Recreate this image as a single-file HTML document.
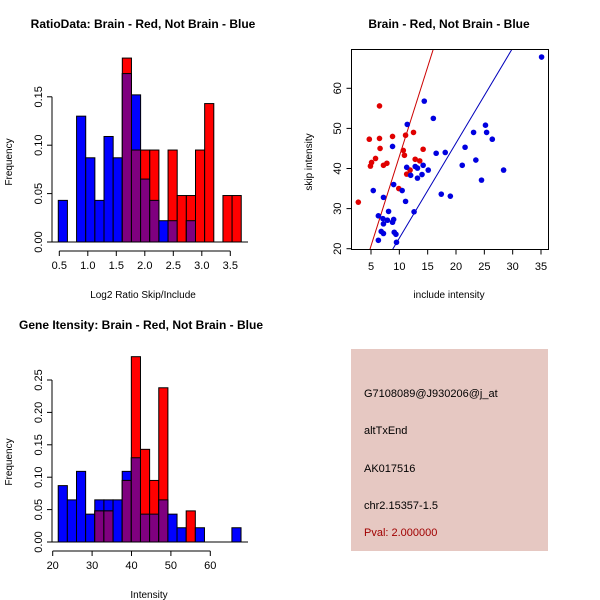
<!DOCTYPE html>
<html><head><meta charset="utf-8">
<style>
html,body{margin:0;padding:0;background:#fff;}
svg{display:block;font-family:"Liberation Sans",sans-serif;}
</style></head>
<body>
<svg id="c" width="600" height="600" viewBox="0 0 600 600">
<rect x="0" y="0" width="600" height="600" fill="#fff"/>
<text x="143" y="28" font-size="12" font-weight="bold" text-anchor="middle">RatioData: Brain - Red, Not Brain - Blue</text>
<text x="449" y="28" font-size="12" font-weight="bold" text-anchor="middle">Brain - Red, Not Brain - Blue</text>
<text x="141" y="329" font-size="12" font-weight="bold" text-anchor="middle">Gene Itensity: Brain - Red, Not Brain - Blue</text>
<text x="143" y="298" font-size="10" text-anchor="middle">Log2 Ratio Skip/Include</text>
<text x="12" y="162" font-size="10" text-anchor="middle" transform="rotate(-90 12 162)">Frequency</text>
<text x="449" y="298" font-size="10" text-anchor="middle">include intensity</text>
<text x="312" y="162" font-size="10" text-anchor="middle" transform="rotate(-90 312 162)">skip intensity</text>
<text x="149" y="598" font-size="10" text-anchor="middle">Intensity</text>
<text x="12" y="462" font-size="10" text-anchor="middle" transform="rotate(-90 12 462)">Frequency</text>
<g>
<rect x="351" y="349" width="197" height="202" fill="#e6c8c2"/>
<text x="364" y="397" font-size="11">G7108089@J930206@j_at</text>
<text x="364" y="434" font-size="11">altTxEnd</text>
<text x="364" y="472" font-size="11">AK017516</text>
<text x="364" y="509" font-size="11">chr2.15357-1.5</text>
<text x="364" y="536" font-size="11" fill="#a00000">Pval: 2.000000</text>
</g>
<g id="g1"></g><g id="g2"></g><g id="g3"></g>
</svg>
<script>
// Ratio histogram data
const ratioBlue = [0.043,0,0.13,0.087,0.043,0.109,0.087,0.174,0.152,0.065,0.043,0.022,0.022,0,0.022,0,0,0,0,0];
const ratioRed  = [0,0,0,0,0,0,0,0.19,0.095,0.095,0.095,0,0.095,0.048,0.048,0.095,0.143,0,0.048,0.048];
const ratioXTicks = [0.5,1.0,1.5,2.0,2.5,3.0,3.5];
const ratioXLabels = ["0.5","1.0","1.5","2.0","2.5","3.0","3.5"];
const ratioYTicks = [0,0.05,0.10,0.15];
const ratioYLabels = ["0.00","0.05","0.10","0.15"];
// Intensity histogram data
const intBlue = [0.087,0.065,0.109,0.043,0.065,0.065,0.065,0.109,0.13,0.043,0.043,0.065,0.043,0.022,0,0.022,0,0,0,0.022];
const intRed  = [0,0,0,0,0.048,0.048,0,0.095,0.286,0.143,0.095,0.238,0,0,0.048,0,0,0,0,0];
const intXTicks = [20,30,40,50,60];
const intYTicks = [0,0.05,0.10,0.15,0.20,0.25];
const intYLabels = ["0.00","0.05","0.10","0.15","0.20","0.25"];
// Scatter data
const redX = [2.76,4.7,6.5,6.5,6.6,5.8,5.1,4.9,7.2,7.8,8.8,9.9,10.7,10.9,11.1,11.3,11.9,12.5,12.8,13.6,14.2];
const redY = [31.6,47.3,55.6,47.5,45,42.5,41.5,40.6,40.8,41.3,48,35,44.5,43.3,48.3,38.6,39.6,49,42.3,41.9,44.8];
const blueX = [5.4,8.8,11.4,14.4,16,16.5,18.1,7.2,9,10.5,11.1,11.3,12,12.8,13.2,13.2,14,14.2,15.1,12.6,6.3,7.1,8.1,7.9,9,8.8,7.2,6.8,7.2,9.1,9.4,9.5,6.3,17.4,19,21.1,21.6,23.1,23.5,24.5,25.2,25.4,26.4,28.4,35.1];
const blueY = [34.5,45.5,51,56.8,52.5,43.8,44,32.8,36,34.5,31.8,40.3,38.3,40.5,40.1,37.6,38.5,40.8,39.6,29.2,28.2,27.5,29.3,27.1,27.3,26.6,26.2,24.3,23.8,24.1,23.6,21.6,22.1,33.6,33.1,40.8,45.3,49,42.1,37.1,50.8,49,47.3,39.6,67.8];
const redLine = [4.8,19.8,16,69.8];
const blueLine = [8.8,19.8,29.9,69.8];
const scXTicks = [5,10,15,20,25,30,35];
const scYTicks = [20,30,40,50,60];

const NS="http://www.w3.org/2000/svg";
function mk(p,t,a){const e=document.createElementNS(NS,t);for(const k in a)e.setAttribute(k,a[k]);p.appendChild(e);return e;}

function hist(g,blue,red,x0,bw,sx,sy,nameP){
  for(let i=0;i<blue.length;i++){
    const xa=sx(x0+i*bw), xb=sx(x0+(i+1)*bw);
    const b=blue[i], r=red[i];
    if(b>0){const e=mk(g,'rect',{x:xa,y:sy(b),width:xb-xa,height:sy(0)-sy(b),fill:'#0000ff',stroke:'#000','stroke-width':1});
      
      }
    if(r>0){const e=mk(g,'rect',{x:xa,y:sy(r),width:xb-xa,height:sy(0)-sy(r),fill:'#ff0000',stroke:'#000','stroke-width':1});
      
      }
    const m=Math.min(b,r);
    if(m>0){const e=mk(g,'rect',{x:xa,y:sy(m),width:xb-xa,height:sy(0)-sy(m),fill:'#7f007f',stroke:'#000','stroke-width':1});
      
      }
  }
}
function axes(g,xt,xl,yt,yl,sx,sy,ax,ay,xa0,xa1,ya0,ya1,nameP){
  mk(g,'line',{x1:sx(xa0),x2:sx(xa1),y1:ay,y2:ay,stroke:'#000'});
  xt.forEach((v,i)=>{mk(g,'line',{x1:sx(v),x2:sx(v),y1:ay,y2:ay+5,stroke:'#000'});
    const t=mk(g,'text',{x:sx(v),y:ay+18,'font-size':11,'text-anchor':'middle'});t.textContent=xl[i];
    
    });
  mk(g,'line',{x1:ax,x2:ax,y1:sy(ya0),y2:sy(ya1),stroke:'#000'});
  yt.forEach((v,i)=>{mk(g,'line',{x1:ax,x2:ax-5,y1:sy(v),y2:sy(v),stroke:'#000'});
    const tx=ax-10,ty=sy(v);
    const t=mk(g,'text',{x:tx,y:ty,'font-size':11,'text-anchor':'middle',transform:`rotate(-90 ${tx} ${ty})`});t.textContent=yl[i];
    
    });
}
// Plot 1
{const g=document.getElementById('g1');
 
 const sx=v=>59.3+(v-0.5)*57, sy=v=>242-v*968;
 hist(g,ratioBlue,ratioRed,0.482,0.1605,sx,sy,'ratio');
 mk(g,'line',{x1:52,x2:248,y1:242,y2:242,stroke:'#000'});
 axes(g,ratioXTicks,ratioXLabels,ratioYTicks,ratioYLabels,sx,sy,52,251,0.5,3.5,0,0.15,'ratio');}
// Plot 3
{const g=document.getElementById('g3');
 
 const sx=v=>52.7+(v-20)*3.94, sy=v=>542-v*648;
 hist(g,intBlue,intRed,21.4,2.32,sx,sy,'intensity');
 mk(g,'line',{x1:52,x2:248,y1:542,y2:542,stroke:'#000'});
 axes(g,intXTicks,intXTicks.map(String),intYTicks,intYLabels,sx,sy,52,551,20,60,0,0.25,'intensity');}
// Plot 2
{const g=document.getElementById('g2');
 
 const sx=v=>371+(v-5)*5.667, sy=v=>248.7-(v-20)*4.01;
 mk(g,'clipPath',{id:'cp'}).appendChild(document.createElementNS(NS,'rect'));
 const cr=g.querySelector('#cp rect');cr.setAttribute('x',352);cr.setAttribute('y',49);cr.setAttribute('width',196);cr.setAttribute('height',200);
 const l1=mk(g,'line',{x1:sx(redLine[0]),y1:sy(redLine[1]),x2:sx(redLine[2]),y2:sy(redLine[3]),stroke:'#cc0000','clip-path':'url(#cp)'});
 
 const l2=mk(g,'line',{x1:sx(blueLine[0]),y1:sy(blueLine[1]),x2:sx(blueLine[2]),y2:sy(blueLine[3]),stroke:'#0000bb','clip-path':'url(#cp)'});
 
 redX.forEach((x,i)=>{const c=mk(g,'circle',{cx:sx(x),cy:sy(redY[i]),r:2.8,fill:'#e00000'});
   
   });
 blueX.forEach((x,i)=>{const c=mk(g,'circle',{cx:sx(x),cy:sy(blueY[i]),r:2.8,fill:'#0000e0'});
   
   });
 mk(g,'rect',{x:351.5,y:49.5,width:197,height:200,fill:'none',stroke:'#000'});
 scXTicks.forEach(v=>{mk(g,'line',{x1:sx(v),x2:sx(v),y1:249.5,y2:254.5,stroke:'#000'});
   const t=mk(g,'text',{x:sx(v),y:270,'font-size':11,'text-anchor':'middle'});t.textContent=v;
   
   });
 scYTicks.forEach(v=>{mk(g,'line',{x1:351.5,x2:346.5,y1:sy(v),y2:sy(v),stroke:'#000'});
   const tx=341,ty=sy(v);
   const t=mk(g,'text',{x:tx,y:ty,'font-size':11,'text-anchor':'middle',transform:`rotate(-90 ${tx} ${ty})`});t.textContent=v;
   
   });}
</script>
</body></html>
